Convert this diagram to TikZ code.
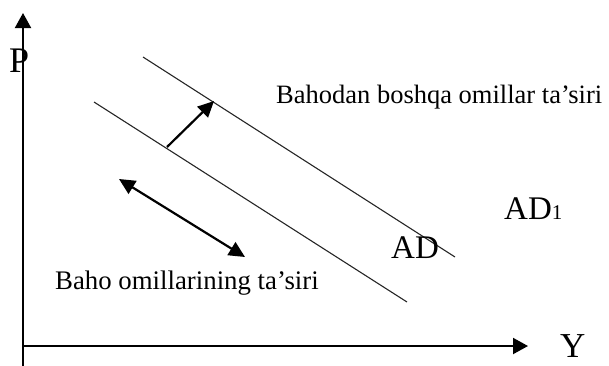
\documentclass[tikz,border=0pt]{standalone}
\usepackage{fontspec}
\setmainfont{Liberation Serif}
\usetikzlibrary{arrows.meta}
\begin{document}
\begin{tikzpicture}[x=1pt,y=-1pt,
  axisline/.style={line width=2pt,-{Triangle[width=16pt,length=15pt]}},
  curveline/.style={line width=1.1pt,black!85},
  shiftarrow/.style={line width=2.2pt,-{Triangle[width=15pt,length=16pt]}},
  movearrow/.style={line width=2.2pt,{Triangle[width=15pt,length=16pt]}-{Triangle[width=15pt,length=16pt]}},
  lbl/.style={inner sep=0pt,anchor=base west}]
\useasboundingbox (0,0) rectangle (609,365);
% axes
\coordinate (O) at (23,346);
\coordinate (ytop) at (23,13);
\coordinate (ybot) at (23,366);
\coordinate (xend) at (528,346);
\draw[axisline] (ybot) -- (ytop);
\draw[axisline] (O) -- (xend);
% demand lines
\coordinate (ad1a) at (143,57);
\coordinate (ad1b) at (455,257);
\coordinate (ada) at (94,102);
\coordinate (adb) at (407,302);
\draw[curveline] (ad1a) -- (ad1b);
\draw[curveline] (ada) -- (adb);
% arrows
\coordinate (s1) at (167,147);
\coordinate (s2) at (214,101);
\draw[shiftarrow] (s1) -- (s2);
\coordinate (m1) at (119,179);
\coordinate (m2) at (245,257);
\draw[movearrow] (m1) -- (m2);
% labels
\node[lbl,font=\fontsize{36}{40}\selectfont] (P) at (9,72) {P};
\node[lbl,font=\fontsize{35}{40}\selectfont] (Y) at (560,357) {Y};
\node[lbl,font=\fontsize{33}{36}\selectfont] (AD) at (391,258) {AD};
\node[lbl,font=\fontsize{33}{36}\selectfont] (AD1) at (504,219) {AD{\fontsize{21}{24}\selectfont 1}};
\node[lbl,font=\fontsize{26.5}{30}\selectfont] (t1) at (276,103) {Bahodan boshqa omillar ta’siri};
\node[lbl,font=\fontsize{26.8}{30}\selectfont] (t2) at (55,289) {Baho omillarining ta’siri};
\end{tikzpicture}
\end{document}
